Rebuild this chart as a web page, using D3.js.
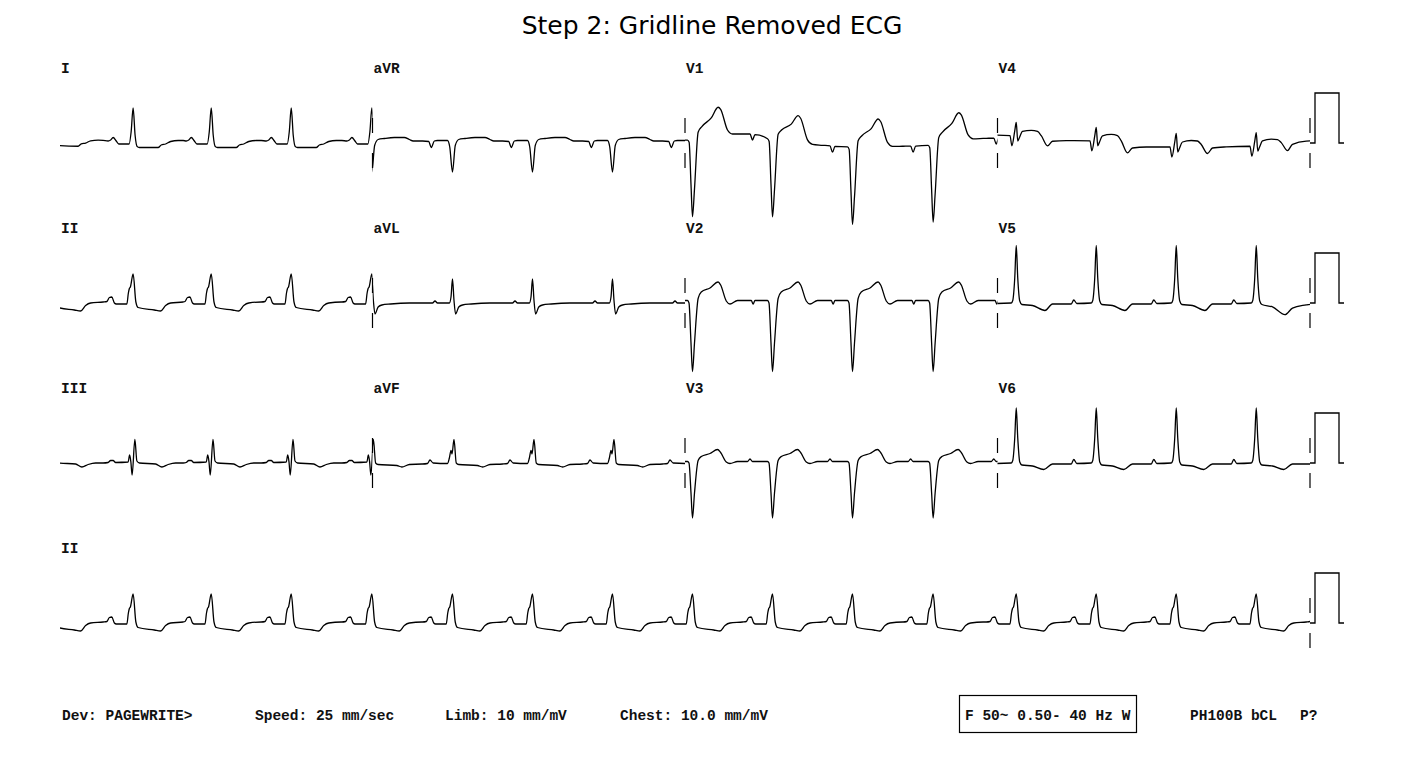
<!DOCTYPE html>
<html>
<head>
<meta charset="utf-8">
<script src="https://cdn.jsdelivr.net/npm/d3@7"></script>
<style>
  body { margin: 0; background: #fff; }
  .mono { font-family: "Liberation Mono", "DejaVu Sans Mono", monospace; font-weight: bold; font-size: 14.5px; fill: #111; }
  .title { font-family: "DejaVu Sans", sans-serif; font-size: 25px; fill: #000; }
</style>
</head>
<body>
<svg id="ecg" width="1425" height="763"></svg>
<script>
// QRS times (s) shared by every lead
const beatTimes = [-0.055, 0.585, 1.21, 1.85, 2.495, 3.14, 3.78, 4.42, 5.06, 5.70, 6.34, 6.985, 7.65, 8.29, 8.93, 9.57, 10.21];

// one beat per lead: [seconds from QRS, mV]
const tplI   = [[-0.24,0.05],[-0.2,0.04],[-0.18,0.06],[-0.16,0.11],[-0.135,0.04],[-0.115,-0.02],[-0.032,-0.02],[-0.016,0.22],[0,0.7],[0.016,0.15],[0.032,-0.07],[0.05,-0.09],[0.2,-0.09],[0.225,-0.04],[0.26,-0.02],[0.3,0.03],[0.36,0.05],[0.40,0.05]];
const tplII  = [[-0.24,0.02],[-0.21,0.03],[-0.19,0.11],[-0.17,0.12],[-0.15,0.0],[-0.135,-0.02],[-0.05,-0.02],[-0.038,0.2],[-0.03,0.29],[-0.022,0.32],[0,0.58],[0.022,0.02],[0.04,-0.09],[0.17,-0.14],[0.22,-0.16],[0.26,-0.05],[0.3,0.0],[0.40,0.02]];
const tplIII = [[-0.24,0.0],[-0.2,0.01],[-0.18,0.05],[-0.16,0.05],[-0.14,0.01],[-0.04,0.02],[-0.028,0.16],[-0.018,0.02],[-0.008,-0.24],[0.014,0.47],[0.03,0.04],[0.05,0.0],[0.18,-0.02],[0.23,-0.08],[0.28,-0.03],[0.34,0.0],[0.40,0.0]];
const tplAVR = [[-0.24,0.04],[-0.19,0.03],[-0.17,-0.09],[-0.145,0.04],[-0.12,0.05],[-0.04,0.05],[-0.022,-0.08],[0,-0.58],[0.022,-0.05],[0.05,0.07],[0.1,0.09],[0.18,0.11],[0.26,0.11],[0.3,0.07],[0.33,0.04],[0.40,0.04]];
const tplAVL = [[-0.24,0.0],[-0.16,0.0],[-0.14,0.04],[-0.12,0.0],[-0.025,0.0],[-0.012,0.12],[0,0.48],[0.012,0.05],[0.025,-0.22],[0.05,-0.08],[0.08,-0.04],[0.15,-0.02],[0.3,0.0],[0.40,0.0]];
const tplAVF = [[-0.24,-0.02],[-0.2,-0.01],[-0.18,0.06],[-0.155,0.0],[-0.04,-0.01],[-0.025,0.1],[-0.012,0.25],[-0.004,0.18],[0.012,0.47],[0.03,0.0],[0.05,-0.03],[0.2,-0.05],[0.24,-0.08],[0.3,-0.03],[0.40,-0.02]];
const tplV1  = [[-0.24,0.0],[-0.18,0.0],[-0.16,-0.12],[-0.14,0.0],[-0.04,0.0],[-0.027,-0.05],[-0.012,-0.9],[0,-1.55],[0.016,-1.0],[0.045,0.12],[0.075,0.22],[0.15,0.36],[0.205,0.55],[0.225,0.5],[0.28,0.08],[0.32,0.0],[0.40,0.0]];
const tplV2  = [[-0.24,0.05],[-0.17,0.05],[-0.155,-0.02],[-0.14,0.05],[-0.04,0.05],[-0.028,0.0],[-0.012,-0.8],[0,-1.37],[0.016,-0.8],[0.045,0.09],[0.07,0.22],[0.14,0.3],[0.205,0.42],[0.225,0.36],[0.27,0.04],[0.3,-0.02],[0.36,0.05],[0.40,0.05]];
const tplV3  = [[-0.24,0.03],[-0.2,0.03],[-0.18,0.08],[-0.16,0.03],[-0.04,0.03],[-0.028,0.0],[-0.012,-0.6],[0,-1.1],[0.016,-0.6],[0.045,0.05],[0.07,0.13],[0.14,0.19],[0.2,0.27],[0.225,0.21],[0.27,0.02],[0.3,-0.01],[0.36,0.03],[0.40,0.03]];
const tplV4  = [[-0.24,0.0],[-0.05,0.0],[-0.035,-0.2],[-0.012,0.1],[0,0.27],[0.012,-0.1],[0.025,-0.03],[0.05,0.1],[0.12,0.13],[0.17,0.12],[0.2,0.05],[0.25,-0.13],[0.29,-0.02],[0.40,0.0]];
const tplV5  = [[-0.24,-0.02],[-0.2,-0.02],[-0.18,0.06],[-0.155,-0.01],[-0.04,0.0],[-0.028,0.05],[-0.012,0.5],[0,1.15],[0.012,0.5],[0.028,0.04],[0.045,-0.03],[0.13,-0.05],[0.23,-0.15],[0.29,-0.02],[0.40,-0.02]];
const tplV6  = [[-0.24,-0.02],[-0.2,-0.02],[-0.18,0.07],[-0.155,-0.01],[-0.04,0.0],[-0.028,0.05],[-0.012,0.5],[0,1.1],[0.012,0.5],[0.028,0.02],[0.045,-0.04],[0.13,-0.06],[0.22,-0.13],[0.29,-0.02],[0.40,-0.02]];

// baseline wander: [seconds, mV]
const wanderI  = [[0,0.04],[0.2,0.02],[0.35,0]];
const wanderV1 = [[5.0,0.05],[5.3,0.18],[5.55,0.18],[5.62,0.1],[5.9,0.0],[6.25,-0.08],[6.55,-0.07],[6.92,-0.06],[7.25,0.08],[7.5,0.1]];
const wanderV4 = [[7.5,0.16],[7.8,0.12],[7.95,0.05],[8.45,0.04],[8.55,-0.08],[9.3,-0.08],[9.75,-0.05],[10,0.05]];
const wanderV5 = [[7.5,0],[9.65,0],[9.83,-0.1],[10,0]];

// lead names per row, left to right
const row1Leads = ["I", "aVR", "V1", "V4"];
const row2Leads = ["II", "aVL", "V2", "V5"];
const row3Leads = ["III", "aVF", "V3", "V6"];
const rhythmLead = "II";

// 1 mV calibration pulse: [seconds after strip end, mV]
const calPulse = [[0,0],[0.04,0],[0.04,1],[0.232,1],[0.232,0],[0.272,0]];
// lead change marks, mV above / below baseline
const markSpans = [[0.2,0.5],[-0.5,-0.2]];

const footerLeft = ["Dev: PAGEWRITE>", "Speed: 25 mm/sec", "Limb: 10 mm/mV", "Chest: 10.0 mm/mV"];
const footerFilter = "F 50~ 0.50- 40 Hz W";
const footerRight = ["PH100B bCL", "P?"];
const titleText = "Step 2: Gridline Removed ECG";

const leadTable = {
  I: [tplI, wanderI], II: [tplII], III: [tplIII], aVR: [tplAVR], aVL: [tplAVL], aVF: [tplAVF],
  V1: [tplV1, wanderV1], V2: [tplV2], V3: [tplV3], V4: [tplV4, wanderV4], V5: [tplV5, wanderV5], V6: [tplV6]
};

// layout
const colSeconds = 2.5;
const rowBase = [143, 303, 463, 623];
const pxPerMv = 50;

const svg = d3.select("#ecg");
const x = d3.scaleLinear().domain([0, 10]).range([60, 1310]);
const yFor = (r) => d3.scaleLinear().domain([0, 1]).range([rowBase[r], rowBase[r] - pxPerMv]);

function buildTrace(tpl, wander) {
  const pts = [];
  beatTimes.forEach((r) => {
    tpl.forEach(([dt, v]) => {
      const t = r + dt;
      if (pts.length && t <= pts[pts.length - 1][0]) return;
      pts.push([t, v]);
    });
  });
  if (wander) {
    const w = d3.scaleLinear().domain(wander.map(d => d[0])).range(wander.map(d => d[1])).clamp(true);
    return pts.map(([t, v]) => [t, v + w(t)]);
  }
  return pts;
}

svg.append("text")
  .attr("class", "title")
  .attr("x", 712)
  .attr("y", 34)
  .attr("text-anchor", "middle")
  .text(titleText);

const defs = svg.append("defs");
[0, 1, 2, 3].forEach((c) => {
  defs.append("clipPath").attr("id", "col" + c)
    .append("rect")
    .attr("x", x(c * colSeconds))
    .attr("y", 0)
    .attr("width", x(colSeconds) - x(0))
    .attr("height", 763);
});
defs.append("clipPath").attr("id", "full")
  .append("rect").attr("x", x(0)).attr("y", 0).attr("width", x(10) - x(0)).attr("height", 763);

function drawLead(name, r, clipId, labelT) {
  const y = yFor(r);
  const [tpl, wander] = leadTable[name];
  const line = d3.line().x(d => x(d[0])).y(d => y(d[1])).curve(d3.curveMonotoneX);
  svg.append("path")
    .datum(buildTrace(tpl, wander))
    .attr("clip-path", `url(#${clipId})`)
    .attr("fill", "none")
    .attr("stroke", "#000")
    .attr("stroke-width", 1.3)
    .attr("stroke-linejoin", "round")
    .attr("d", line);
  svg.append("text")
    .attr("class", "mono")
    .attr("x", x(labelT) + 1)
    .attr("y", rowBase[r] - 70)
    .text(name);
}

function drawMarks(r, t) {
  const y = yFor(r);
  markSpans.forEach(([a, b]) => {
    svg.append("line")
      .attr("x1", x(t)).attr("x2", x(t))
      .attr("y1", y(a)).attr("y2", y(b))
      .attr("stroke", "#000").attr("stroke-width", 1.2);
  });
}

function drawCal(r) {
  const y = yFor(r);
  svg.append("path")
    .datum(calPulse)
    .attr("fill", "none")
    .attr("stroke", "#000")
    .attr("stroke-width", 1.3)
    .attr("d", d3.line().x(d => x(10 + d[0])).y(d => y(d[1])));
}

[row1Leads, row2Leads, row3Leads].forEach((leads, r) => {
  leads.forEach((name, c) => {
    drawLead(name, r, "col" + c, c * colSeconds);
    if (c > 0) drawMarks(r, c * colSeconds);
  });
  drawMarks(r, 10);
  drawCal(r);
});
drawLead(rhythmLead, 3, "full", 0);
drawMarks(3, 10);
drawCal(3);

// footer
const footerX = [62, 255, 445, 620];
footerLeft.forEach((s, i) => {
  svg.append("text").attr("class", "mono").attr("x", footerX[i]).attr("y", 720).text(s);
});
svg.append("rect")
  .attr("x", 959.5).attr("y", 695.5).attr("width", 177).attr("height", 37)
  .attr("fill", "none").attr("stroke", "#000").attr("stroke-width", 1.2);
svg.append("text").attr("class", "mono").attr("x", 965).attr("y", 720).text(footerFilter);
svg.append("text").attr("class", "mono").attr("x", 1190).attr("y", 720).text(footerRight[0]);
svg.append("text").attr("class", "mono").attr("x", 1300).attr("y", 720).text(footerRight[1]);
</script>
</body>
</html>
